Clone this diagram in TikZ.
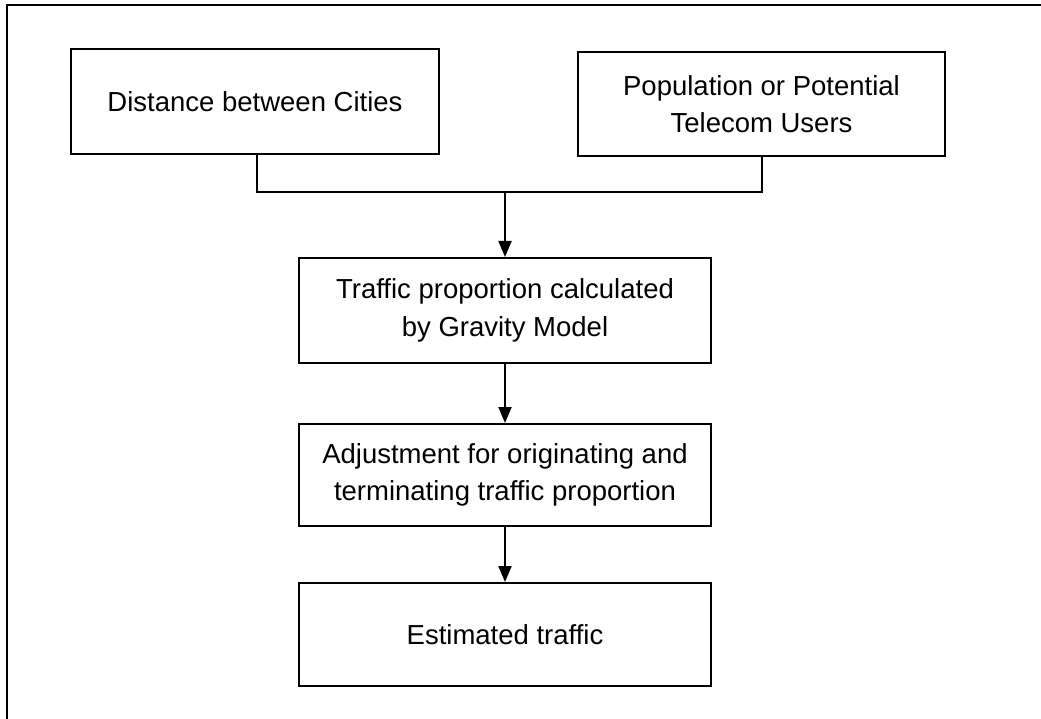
\documentclass[tikz,border=0pt]{standalone}
\usepackage{fontspec}
\setmainfont{Liberation Sans}
\usetikzlibrary{arrows.meta}
\begin{document}
\begin{tikzpicture}[x=1pt,y=-1pt,
  box/.style={draw,line width=2pt,align=center,inner sep=0pt,
    font=\fontsize{27.5pt}{37.5pt}\selectfont},
  conn/.style={line width=2pt},
  arr/.style={line width=2pt,-{Triangle[width=13pt,length=16pt]}}]
\useasboundingbox (0,0) rectangle (1041,719);
\draw[line width=2pt] (7,719) -- (7,5) -- (1041,5);
\node[box,minimum width=368pt,minimum height=105pt] (b1) at (255,101.5) {Distance between Cities};
\node[box,minimum width=367pt,minimum height=104pt] (b2) at (761.5,104) {Population or Potential\\Telecom Users};
\node[box,minimum width=412pt,minimum height=105pt] (b3) at (505,310.5) {Traffic proportion calculated\\by Gravity Model};
\node[box,minimum width=412pt,minimum height=102pt] (b4) at (505,475) {Adjustment for originating and\\terminating traffic proportion};
\node[box,minimum width=412pt,minimum height=103pt] (b5) at (505,634.5) {Estimated traffic};
\coordinate (jl) at (257,192);
\coordinate (jr) at (762,192);
\coordinate (j) at (505,192);
\draw[conn] (b1.south -| jl) -- (jl) -- (jr) -- (b2.south -| jr);
\draw[arr] (j) -- (b3.north);
\draw[arr] (b3.south) -- (b4.north);
\draw[arr] (b4.south) -- (b5.north);
\end{tikzpicture}
\end{document}
